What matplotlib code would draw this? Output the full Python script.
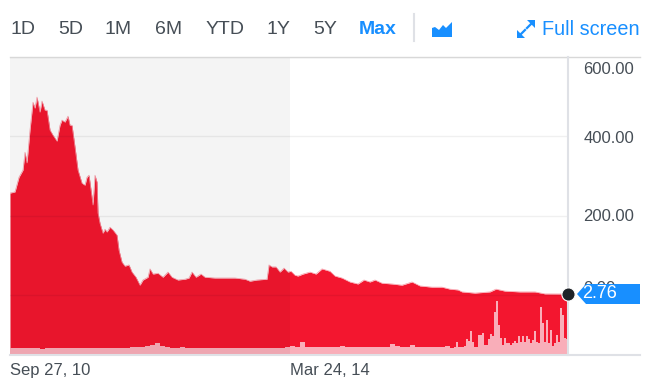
import matplotlib
matplotlib.use("Agg")
import matplotlib.pyplot as plt
from matplotlib.patches import Polygon
from matplotlib.transforms import ScaledTranslation

plt.rcParams['font.family'] = ['Liberation Sans', 'DejaVu Sans']

# sample index along the Max range (0 = Sep 27, 10)
price_idx = [0,5,9,13,15,17,20,23,25,27,30,32,35,37,40,43,47,50,52,55,58,60,62,65,68,72,75,77,79,82,83,85,87,88,90,93,95,97,100,103,107,109,112,115,119,122,126,130,133,138,140,143,148,153,158,162,168,175,179,182,186,191,195,205,215,225,235,240,247,257,259,262,266,270,274,278,281,285,288,293,300,306,312,320,325,332,340,348,354,360,365,372,382,392,402,410,422,432,440,448,452,465,480,486,495,510,525,535,557]
price_val = [257,260,297,315,360,333,416,486,471,499,461,489,466,466,416,403,388,428,441,436,451,428,428,373,315,282,277,297,302,247,227,302,285,207,181,156,166,159,171,164,151,113,83,73,76,58,45,25,38,45,66,53,55,45,58,45,38,40,43,58,45,53,45,43,43,43,40,35,38,40,76,71,71,58,68,58,60,50,48,53,58,53,66,60,48,43,33,28,38,33,38,30,28,25,33,23,20,20,15,13,8,5,8,15,10,8,8,3,2.76]

vol_left = [6,6,6,6,6,6,5,6,6,6,6,6,6,6,6,6,6,6,6,6,6,6,6,6,7,7,7,8,9,11,8,7,6,6,7,6,6,6,6,6,6,6,6,6,6,6,6,6,6,6,6,6,6,6,6,7,8,7,12,7,7,7,7,7,7,7,8,7,7,7,7,7,7,7,7,7,10,8,7,7,9,7,7,7,7,7,7,8]
vol_right = [5.7,6.3,6.7,12,7.3,7.3,7.3,8,14.7,13.3,23,12.3,7.3,6.7,19,19.3,20.7,9,9,14.7,20,18,42.3,53,29,15.7,9,15.7,10.7,11.3,9,10.7,13.3,11.3,18,12.3,18,12.3,18,14.7,10.7,14,23.3,12.3,10.7,47.3,30.7,12.3,34,10.7,24,8,11.3,19,12.3,45.7,39,15.7,14.7]

y_ticks = [600, 400, 200, 0]
y_labels = ['600.00', '400.00', '200.00', '0.00']
y_label_shift_px = [11, 1, -1, -8]
x_ticks = [0, 280]
x_labels = ['Sep 27, 10', 'Mar 24, 14']
ranges = ['1D', '5D', '1M', '6M', 'YTD', '1Y', '5Y']
range_x = [10, 58, 105, 155, 206, 267, 313]
last_price = 2.76

W, H = 663, 384
fig = plt.figure(figsize=(W/100, H/100), dpi=100, facecolor='white')
ax = fig.add_axes([10/W, 1-355/H, 558/W, 298/H])
ax.set_xlim(0, 558)
ax.set_ylim(-151, 600)
for s in ax.spines.values():
    s.set_visible(False)

# volume on its own scale (created first so its twin call cannot move the price ticks)
axv = ax.twinx()
axv.set_ylim(-1, 297)
axv.axis('off')

RED = '#F3162F'
ax.fill_between(price_idx, price_val, -151, color=RED, lw=0, zorder=2)
ax.plot(price_idx, price_val, color='#f89aa6', lw=0.5, zorder=2.1)
ax.grid(axis='y', color='#000000', alpha=0.06, lw=1, zorder=4)
ax.set_axisbelow(False)
ax.grid(axis='x', visible=False)
ax.set_yticks(y_ticks, y_labels)
ax.set_xticks(x_ticks, x_labels)
ax.yaxis.tick_right()
ax.tick_params(axis='y', length=0, pad=11, labelsize=12, labelcolor='#464e56')
ax.tick_params(axis='x', length=0, pad=6, labelsize=12, labelcolor='#464e56')
for tick, dy in zip(ax.yaxis.get_major_ticks(), y_label_shift_px):
    lab = tick.label2
    lab.set_transform(lab.get_transform() + ScaledTranslation(0, -dy/100, fig.dpi_scale_trans))
for lab in ax.get_xticklabels():
    lab.set_ha('left')

PINK = '#F9AEB9'
vol_left_x = [2.5 + 5*i for i in range(len(vol_left))]
vol_right_x = [441 + 2*i for i in range(len(vol_right))]
axv.bar(vol_left_x, vol_left, width=5, color=PINK, lw=0, zorder=3)
axv.bar(vol_right_x, vol_right, width=2.0, color=PINK, lw=0, zorder=3)
axv.axvspan(0, 280, color='#000000', alpha=0.045, lw=0, zorder=5)

# chart chrome in pixel coordinates
ui = fig.add_axes([0, 0, 1, 1], zorder=10)
ui.set_xlim(0, W); ui.set_ylim(H, 0); ui.axis('off'); ui.patch.set_alpha(0)
LINE = '#dfe1e6'
ui.plot([10, 640], [56.5, 56.5], color='#d8d8d8', lw=1)
ui.plot([10, 640], [355, 355], color=LINE, lw=1.5)
ui.plot([568, 568], [57, 355], color=LINE, lw=1.5)
ui.plot([414, 414], [14, 41], color=LINE, lw=1.5)

for t, x in zip(ranges, range_x):
    ui.text(x, 29.5, t, fontsize=14, color='#464e56', va='center', ha='left')
BLUE = '#188FFF'
ui.text(359, 29.5, 'Max', fontsize=14, color=BLUE, weight='bold', va='center', ha='left')
ui.text(640, 29.5, 'Full screen', fontsize=14.3, color=BLUE, va='center', ha='right')

ui.add_patch(Polygon([(432,28),(435,27),(439,30),(443,25),(446,28),(452,22),(452,37),(432,37)], closed=True, fc=BLUE, lw=0))
ui.add_patch(Polygon([(527,20),(535,20),(535,28)], closed=True, fc=BLUE, lw=0))
ui.add_patch(Polygon([(517,38),(517,30),(525,38)], closed=True, fc=BLUE, lw=0))
ui.plot([533, 527], [22, 28], color=BLUE, lw=1.6)
ui.plot([519, 525], [36, 30], color=BLUE, lw=1.6)

ui.add_patch(Polygon([(577,294),(586,284),(640,284),(640,304),(586,304)], closed=True, fc=BLUE, lw=0, zorder=5))
ui.text(600, 294, f'{last_price:.2f}', fontsize=13, color='white', ha='center', va='center', zorder=6)
ui.plot([567.5], [294], marker='o', ms=9.5, mfc='#1f2328', mec='white', mew=0.8, zorder=7)

fig.savefig('out.png', dpi=100)
